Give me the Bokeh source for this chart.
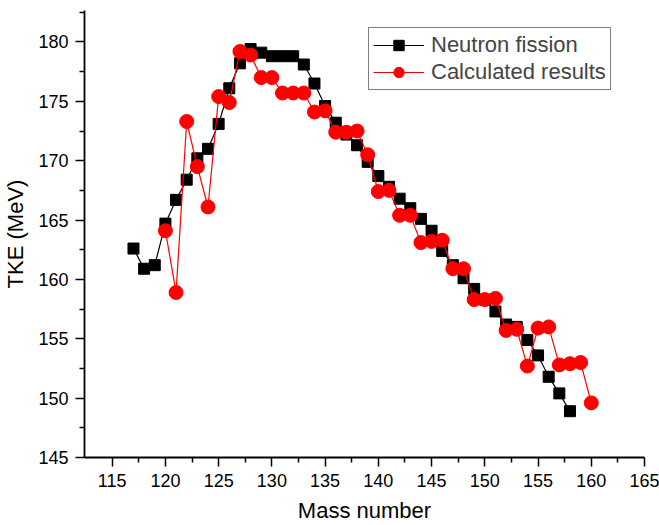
from bokeh.plotting import figure
from bokeh.models import Range1d, FixedTicker, Legend, LegendItem
from bokeh.embed import file_html
from bokeh.resources import INLINE

# Neutron fission (experimental)
nf_mass = [117, 118, 119, 120, 121, 122, 123, 124, 125, 126, 127, 128, 129, 130,
           131, 132, 133, 134, 135, 136, 137, 138, 139, 140, 141, 142, 143, 144,
           145, 146, 147, 148, 149, 150, 151, 152, 153, 154, 155, 156, 157, 158]
nf_tke = [162.6, 160.9, 161.2, 164.7, 166.7, 168.4, 170.2, 171.0, 173.1, 176.1,
          178.2, 179.4, 179.1, 178.8, 178.8, 178.8, 178.1, 176.5, 174.6, 173.2,
          172.2, 171.3, 169.9, 168.7, 167.8, 166.8, 166.0, 165.1, 164.1, 162.4,
          161.2, 160.1, 159.2, 158.3, 157.3, 156.2, 156.0, 154.9, 153.6, 151.8,
          150.4, 148.9]

# Calculated results
calc_mass = [120, 121, 122, 123, 124, 125, 126, 127, 128, 129, 130, 131, 132, 133,
             134, 135, 136, 137, 138, 139, 140, 141, 142, 143, 144, 145, 146, 147,
             148, 149, 150, 151, 152, 153, 154, 155, 156, 157, 158, 159, 160]
calc_tke = [164.1, 158.9, 173.3, 169.5, 166.1, 175.4, 174.9, 179.2, 178.9, 177.0,
            177.0, 175.7, 175.7, 175.7, 174.1, 174.2, 172.4, 172.4, 172.5, 170.5,
            167.4, 167.5, 165.4, 165.4, 163.1, 163.2, 163.3, 160.9, 160.9, 158.3,
            158.3, 158.4, 155.7, 155.8, 152.7, 155.9, 156.0, 152.8, 152.9, 153.0,
            149.6]

x_ticks = [115, 120, 125, 130, 135, 140, 145, 150, 155, 160, 165]
y_ticks = [145, 150, 155, 160, 165, 170, 175, 180]

p = figure(width=659, height=525, output_backend="svg", toolbar_location=None,
           x_range=Range1d(112.4, 165), y_range=Range1d(145, 182.65),
           min_border_left=84, min_border_top=10, min_border_right=15,
           min_border_bottom=67)
p.outline_line_color = None
p.xgrid.visible = False
p.ygrid.visible = False
p.background_fill_color = "white"

font = "Liberation Sans"
for ax in (p.xaxis[0], p.yaxis[0]):
    ax.axis_line_width = 1.8
    ax.major_tick_line_width = 1.5
    ax.minor_tick_line_width = 1.5
    ax.major_tick_out = 9
    ax.major_tick_in = 0
    ax.minor_tick_out = 5
    ax.minor_tick_in = 0
    ax.major_label_text_font = font
    ax.major_label_text_font_size = "18px"
    ax.major_label_text_color = "black"
    ax.axis_label_text_font = font
    ax.axis_label_text_font_size = "22px"
    ax.axis_label_text_font_style = "normal"
    ax.axis_label_text_color = "black"
    ax.major_label_standoff = 7

p.xaxis.ticker = FixedTicker(ticks=x_ticks, minor_ticks=[t + 2.5 for t in x_ticks[:-1]])
p.yaxis.ticker = FixedTicker(ticks=y_ticks, minor_ticks=[t + 2.5 for t in y_ticks])
p.xaxis.axis_label = "Mass number"
p.yaxis.axis_label = "TKE (MeV)"
p.xaxis.axis_label_standoff = 8
p.yaxis.axis_label_standoff = 7

nl = p.line(nf_mass, nf_tke, line_color="black", line_width=1.2)
ns = p.scatter(nf_mass, nf_tke, marker="square", size=11, fill_color="black",
               line_color="black")
cl = p.line(calc_mass, calc_tke, line_color="red", line_width=1.2)
cs = p.scatter(calc_mass, calc_tke, marker="circle", size=14, fill_color="red",
               line_color="red")

legend = Legend(items=[LegendItem(label="Neutron fission", renderers=[nl, ns]),
                       LegendItem(label="Calculated results", renderers=[cl, cs])],
                location=(284, 367))
legend.label_text_font = font
legend.label_text_font_size = "22px"
legend.border_line_color = "black"
legend.border_line_width = 1.2
legend.padding = 4
legend.spacing = 1
legend.label_height = 26
legend.glyph_height = 26
legend.glyph_width = 51
legend.label_standoff = 7
legend.margin = 0
legend.background_fill_alpha = 1
p.add_layout(legend, "center")

open("out.html", "w").write(file_html(p, INLINE))
